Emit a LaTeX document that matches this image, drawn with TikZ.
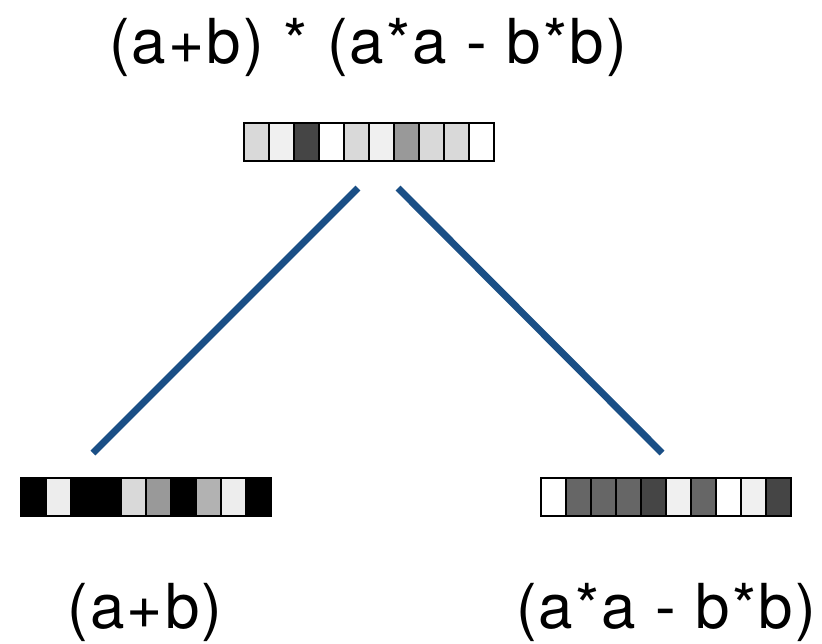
\documentclass[tikz,border=0pt]{standalone}
\usepackage{fontspec}
\setmainfont{TeX Gyre Heros}[LetterSpace=3.5]
\tikzset{
  cell/.style={draw=black, line width=2.4pt},
  link/.style={draw=linkblue, line width=7pt},
  label/.style={anchor=base, inner sep=0pt, font=\fontsize{62}{70}\selectfont},
  vec/.style={draw=none, minimum width=250pt, minimum height=38pt, inner sep=0pt}
}
\definecolor{linkblue}{HTML}{1A4F86}
\newcommand{\drawvec}[2]{% #1 node name, #2 colour list
  \foreach \c [count=\i from 0] in {#2} {
    \draw[cell, fill=\c] ([xshift=\i*25pt]#1.south west) rectangle ([xshift=\i*25pt+25pt]#1.north west);
  }
}
\begin{document}
\begin{tikzpicture}[x=1pt, y=-1pt]
\useasboundingbox (0,0) rectangle (822,643);
% labels
\node[label] (ttop) at (368,63) {(a+b) * (a*a - b*b)};
\node[label] (tleft) at (145,628) {(a+b)};
\node[label] (tright) at (666,628) {(a*a - b*b)};
% vectors
\node[vec] (vtop) at (369,142) {};
\node[vec] (vleft) at (146,497) {};
\node[vec] (vright) at (666,497) {};
\drawvec{vtop}{black!15,black!6,black!73,white,black!15,black!6,black!40,black!15,black!15,white}
\drawvec{vleft}{black,black!7,black,black,black!15,black!40,black,black!30,black!7,black}
\drawvec{vright}{white,black!60,black!60,black!60,black!73,black!6,black!60,white,black!6,black!73}
% connectors
\coordinate (pl) at (358,188);
\coordinate (pr) at (398,188);
\coordinate (cl) at (93,453);
\coordinate (cr) at (662,453);
\draw[link] (pl) -- (cl);
\draw[link] (pr) -- (cr);
\end{tikzpicture}
\end{document}
